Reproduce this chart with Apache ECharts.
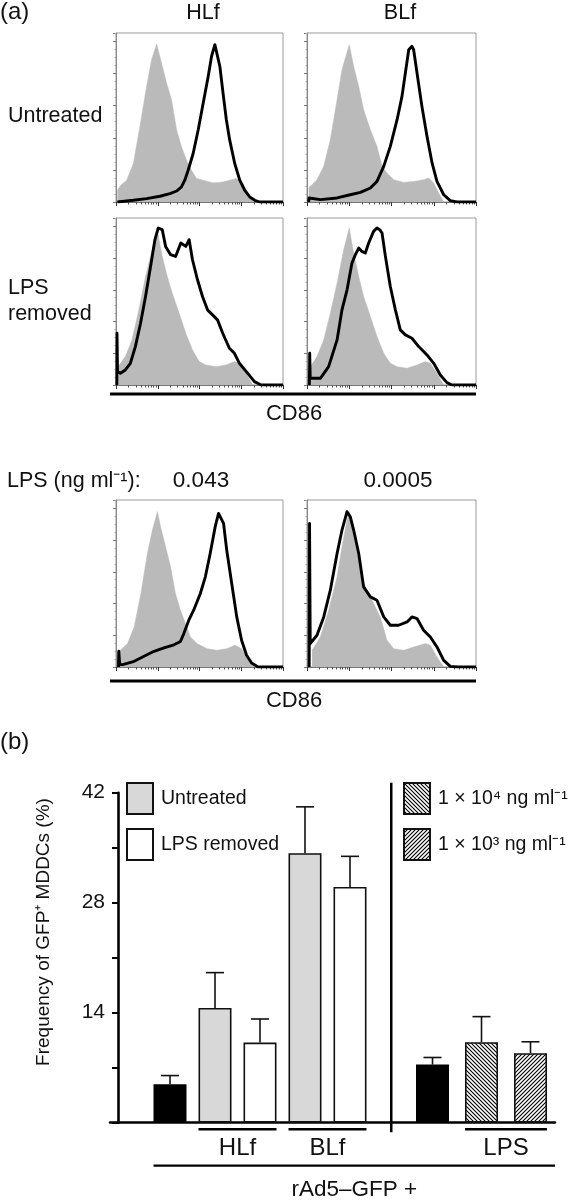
<!DOCTYPE html>
<html><head><meta charset="utf-8">
<script src="https://cdn.jsdelivr.net/npm/echarts@6/dist/echarts.min.js"></script>
<style>html,body{margin:0;padding:0;background:#fff}#c{width:570px;height:1200px}</style>
</head><body><div id="c"></div>
<script>
// ================= DATA =================
// Histograms: [CD86 position (% of 4-decade log axis), % of max count]
const hlfUntreatedCtrl = [[0.8,6.9],[3,10],[6.4,12.9],[10.4,22.8],[14.3,44.6],[18.3,68.3],[21.3,84.2],[24.3,93.5],[26.3,86.1],[28.3,78.2],[30.3,70.3],[33.3,60.4],[36.3,42.6],[39.2,32.7],[42.2,24.8],[45.2,18.8],[48.2,13.9],[52.2,12.9],[58.2,11.3],[64.1,11.9],[68.1,12.9],[72.1,13.9],[76.1,10.9],[79.1,5.0],[82.1,0]];
const hlfUntreatedCD86 = [[0.8,0],[10.4,1.0],[18.3,2.0],[26.3,3.4],[32.3,5.0],[36.3,6.5],[39.2,8.9],[41.2,12.9],[43.2,18.8],[46.2,28.7],[49.2,42.6],[52.2,58.4],[55.2,74.3],[57.2,86.1],[59.2,93.1],[60.2,92.1],[62.2,80.2],[64.1,64.4],[66.1,48.5],[68.1,36.6],[71.1,22.8],[74.1,12.9],[77.1,6.9],[80.1,3.0],[83.1,1.0],[86.1,0],[100,0]];
const blfUntreatedCtrl = [[1.0,8.3],[5.9,13.2],[9.9,21.1],[13.8,36.9],[17.8,60.6],[20.7,78.3],[25.0,93.1],[27.6,80.3],[30.6,68.4],[33.5,54.6],[37.5,42.8],[41.4,32.9],[44.4,21.1],[47.3,17.2],[51.3,13.2],[57.2,11.6],[63.1,12.2],[69.0,13.2],[72.0,14.2],[75.0,11.2],[77.9,5.3],[80.9,0]];
const blfUntreatedCD86 = [[1.0,0],[1.2,2.4],[2,1.4],[7.9,1.4],[17.8,2.4],[25.6,4.3],[31.6,5.7],[37.5,8.3],[41.4,12.2],[45.4,21.1],[49.3,32.9],[53.3,48.7],[56.2,62.5],[58.2,76.3],[60.2,90.1],[62.1,92.1],[63.1,90.1],[65.1,76.3],[68.0,56.6],[71.0,38.9],[74.0,23.1],[76.9,12.2],[80.9,4.3],[84.8,0.8],[88.8,0],[100,0]];
const hlfRemovedCtrl = [[1.2,11],[5.6,17],[9.6,27],[13.7,45],[17.7,65],[21.7,81],[24.7,92.6],[27.7,77],[30.7,65],[33.7,55],[37.8,43],[41.8,31],[45.8,21],[49.8,14],[53.8,12],[59.8,11],[65.9,12],[70.9,14],[73.9,13],[77.9,7],[81.9,0]];
const hlfRemovedCD86 = [[0.5,0],[0.6,31],[0.9,8],[2.6,7],[5.6,9],[8.6,13],[11.6,23],[14.7,37],[17.7,53],[20.7,71],[23.3,87],[25.3,94],[27.7,93],[29.7,83],[32.7,78],[35.7,77],[38.8,85],[41.8,83],[43.8,87],[45.8,75],[48.8,63],[51.8,53],[54.8,45],[57.8,42],[60.8,39],[63.9,31],[67.9,22],[70.9,19],[73.9,13],[78.9,7],[82.9,2],[86.9,0],[100,0]];
const blfRemovedCtrl = [[2.0,11],[5.9,17],[9.9,27],[13.8,43],[17.8,61],[21.7,81],[25.0,94],[27.6,79],[30.6,65],[33.5,53],[37.5,41],[41.4,29],[45.4,19],[49.3,13],[53.3,11],[59.2,10],[65.1,12],[70.0,14],[73.0,13],[76.9,7],[80.9,0]];
const blfRemovedCD86 = [[1.4,0],[1.6,19],[1.9,4],[3.0,3],[7.9,4],[12.8,11],[17.8,27],[20.7,45],[23.7,57],[26.6,73],[28.6,78],[30.6,82],[32.5,80],[34.5,79],[36.5,85],[39.4,92],[41.4,94],[43,93],[44.4,91],[46.4,77],[49.3,59],[52.3,45],[55.2,33],[58.2,30],[62.1,28],[66.1,23],[71.0,18],[75.0,13],[78.9,6],[82.8,1.4],[85.8,0],[100,0]];
const lps043Ctrl = [[0.5,9],[2.0,9.4],[6.9,14],[10.9,24],[14.9,44],[18.8,68],[21.8,82],[24.8,93],[26.7,84],[29.7,72],[32.7,60],[35.6,44],[38.6,34],[41.6,26],[44.6,18],[48.5,14],[54.5,11],[60.4,10],[66.3,11],[71.3,13],[75.2,11],[78.2,6],[82.2,0]];
const lps043CD86 = [[1.5,0],[1.7,9.4],[2.2,1.4],[4.0,1.4],[10.9,3.4],[16.8,6.4],[22.8,9.4],[28.7,11.4],[34.7,13.3],[38.6,15.3],[40.6,20],[43.6,28],[46.5,34],[50.5,44],[53.5,54],[56.4,68],[59.4,84],[61.4,92],[62.4,93],[64.4,86],[66.3,70],[69.3,50],[72.3,30],[75.2,16],[78.2,7],[81.2,2.4],[85.1,0],[100,0]];
const lps0005Ctrl = [[3.0,10],[7.9,18],[12.8,34],[17.8,54],[20.7,72],[23.7,88],[25.0,93],[27.6,78],[30.6,64],[33.5,50],[37.5,42],[40.4,36],[43.4,30],[47.3,16],[51.3,11],[57.2,10],[63.1,12],[70.0,14],[73.0,13],[76.9,6],[80.9,0]];
const lps0005CD86 = [[1.3,0],[1.5,86],[1.9,14],[3.0,14],[5.9,19],[9.9,30],[13.8,46],[17.8,68],[20.7,82],[23.7,93],[25.6,90],[27.6,82],[30.6,68],[33.5,48],[37.5,42],[41.4,40],[45.4,30],[49.3,25],[54.2,25],[59.2,27],[62.1,30],[65.1,29],[69.0,22],[73.0,18],[76.9,12],[80.9,4],[84.8,0.4],[88.8,0],[100,0]];

const histColumnLabels = ['HLf', 'BLf'];
const histRowLabels = ['Untreated', 'LPS', 'removed'];
const lpsDoseLabels = ['0.043', '0.0005'];

// Bar chart (b)
const leftCategories = ['rAd5–GFP', 'HLf untreated', 'HLf LPS removed', 'BLf untreated', 'BLf LPS removed'];
const rightCategories = ['rAd5–GFP', 'LPS 1e4', 'LPS 1e3'];
const controlMean = [4.9, 7.4];
const controlUpper = [6.0, 8.3];
const untreatedMean = [14.6, 34.3];     // HLf, BLf
const untreatedUpper = [19.1, 40.2];
const removedMean = [10.2, 30.0];       // HLf, BLf
const removedUpper = [13.2, 33.9];
const lpsMean = [10.25, 8.85];          // 1e4, 1e3 ng/ml
const lpsUpper = [13.5, 10.3];
const yTickLabels = [14, 28, 42];
const legendNames = ['Untreated', 'LPS removed', '1 × 10⁴ ng ml⁻¹', '1 × 10³ ng ml⁻¹'];
const groupLabels = ['HLf', 'BLf', 'LPS'];

// ================= CHART =================
const FONT = "'Liberation Sans', Arial, Helvetica, sans-serif";
const chart = echarts.init(document.getElementById('c'), null, {renderer: 'canvas'});

function hatch(dir) {
  const c = document.createElement('canvas'); c.width = 4; c.height = 4;
  const g = c.getContext('2d');
  g.fillStyle = '#fff'; g.fillRect(0, 0, 4, 4);
  g.strokeStyle = '#000'; g.lineWidth = 1.1;
  g.beginPath();
  if (dir > 0) { g.moveTo(-1, 5); g.lineTo(5, -1); g.moveTo(-1, 1); g.lineTo(1, -1); g.moveTo(3, 5); g.lineTo(5, 3); }
  else { g.moveTo(-1, -1); g.lineTo(5, 5); g.moveTo(-1, 3); g.lineTo(1, 5); g.moveTo(3, -1); g.lineTo(5, 1); }
  g.stroke();
  return c;
}
const hatchBack = {image: hatch(-1), repeat: 'repeat'};
const hatchFwd = {image: hatch(1), repeat: 'repeat'};

const majorTicks = [0, 25, 50, 75, 100];
const minorTicks = [];
for (let d = 0; d < 4; d++) for (let k = 2; k <= 9; k++) minorTicks.push(25 * (d + Math.log10(k)));

const histLayout = [
  {left: 116, top: 33, width: 167, height: 169},
  {left: 307, top: 33, width: 169, height: 169},
  {left: 116, top: 218, width: 167, height: 167},
  {left: 307, top: 218, width: 169, height: 167},
  {left: 116, top: 500, width: 167, height: 167},
  {left: 307, top: 500, width: 169, height: 167}
];
const histData = [
  [hlfUntreatedCtrl, hlfUntreatedCD86], [blfUntreatedCtrl, blfUntreatedCD86],
  [hlfRemovedCtrl, hlfRemovedCD86], [blfRemovedCtrl, blfRemovedCD86],
  [lps043Ctrl, lps043CD86], [lps0005Ctrl, lps0005CD86]
];

const grid = [], xAxis = [], yAxis = [], series = [];
histLayout.forEach((L, i) => {
  grid.push(Object.assign({show: true, borderColor: '#9a9a9a', borderWidth: 1, containLabel: false, outerBoundsMode: 'none'}, L));
  xAxis.push({gridIndex: i, type: 'value', min: 0, max: 100, position: 'bottom',
    axisLine: {show: true, onZero: false, lineStyle: {color: '#777', width: 1.2}},
    axisTick: {show: true, customValues: majorTicks, length: 4, lineStyle: {color: '#333', width: 1}},
    axisLabel: {show: false}, splitLine: {show: false}});
  xAxis.push({gridIndex: i, type: 'value', min: 0, max: 100, position: 'bottom',
    axisLine: {show: false},
    axisTick: {show: true, customValues: minorTicks, length: 2.5, lineStyle: {color: '#555', width: 1}},
    axisLabel: {show: false}, splitLine: {show: false}});
  yAxis.push({gridIndex: i, type: 'value', min: 0, max: 100, interval: 19,
    axisLine: {show: true, onZero: false, lineStyle: {color: '#888', width: 1}},
    axisTick: {show: true, length: 3, lineStyle: {color: '#777'}},
    minorTick: {show: true, splitNumber: 4, length: 1.5, lineStyle: {color: '#aaa'}},
    axisLabel: {show: false}, splitLine: {show: false}, minorSplitLine: {show: false}});
  series.push({type: 'line', xAxisIndex: 2 * i, yAxisIndex: i, data: histData[i][0], symbol: 'none', silent: true,
    lineStyle: {width: 0.5, color: '#bababa'}, areaStyle: {color: '#bababa', opacity: 1}, z: 2});
  series.push({type: 'line', xAxisIndex: 2 * i, yAxisIndex: i, data: histData[i][1], symbol: 'none', silent: true,
    lineStyle: {width: 2.9, color: '#000', join: 'round'}, z: 3});
});

// bar chart grids
const BAR_TOP = 792.7, BAR_H = 330;
grid.push({left: 110, width: 445, top: BAR_TOP, height: BAR_H, containLabel: false, outerBoundsMode: 'none'}); // 6 axes
grid.push({left: 147.5, width: 225, top: BAR_TOP, height: BAR_H, containLabel: false, outerBoundsMode: 'none'}); // 7 left bars
grid.push({left: 408, width: 147, top: BAR_TOP, height: BAR_H, containLabel: false, outerBoundsMode: 'none'}); // 8 right bars

xAxis.push({gridIndex: 6, type: 'value', min: 0, max: 1, axisLine: {show: true, onZero: false, lineStyle: {color: '#000', width: 2.6}},
  axisTick: {show: false}, axisLabel: {show: false}, splitLine: {show: false}}); // 12
xAxis.push({gridIndex: 7, type: 'category', data: leftCategories, show: false}); // 13
xAxis.push({gridIndex: 8, type: 'category', data: rightCategories, show: false}); // 14
yAxis.push({gridIndex: 6, type: 'value', min: 0, max: 42, interval: 7, offset: -8,
  axisLine: {show: true, onZero: false, lineStyle: {color: '#000', width: 2.6}},
  axisTick: {show: true, length: 6, lineStyle: {color: '#000', width: 2}},
  axisLabel: {show: true, margin: 13, fontSize: 21, fontFamily: FONT, color: '#111',
    formatter: v => yTickLabels.includes(v) ? String(v) : ''},
  splitLine: {show: false}}); // 6
yAxis.push({gridIndex: 7, type: 'value', min: 0, max: 42, show: false}); // 7
yAxis.push({gridIndex: 8, type: 'value', min: 0, max: 42, show: false}); // 8

const barBase = {type: 'bar', barWidth: 33, barGap: '-100%', silent: true, z: 3};
const blackStyle = {color: '#000', borderColor: '#000', borderWidth: 1.5};
series.push(Object.assign({}, barBase, {name: 'rAd5–GFP', xAxisIndex: 13, yAxisIndex: 7,
  data: [controlMean[0], '-', '-', '-', '-'], itemStyle: blackStyle}));
series.push(Object.assign({}, barBase, {name: legendNames[0], xAxisIndex: 13, yAxisIndex: 7,
  data: ['-', untreatedMean[0], '-', untreatedMean[1], '-'], itemStyle: {color: '#d8d8d8', borderColor: '#111', borderWidth: 1.6}}));
series.push(Object.assign({}, barBase, {name: legendNames[1], xAxisIndex: 13, yAxisIndex: 7,
  data: ['-', '-', removedMean[0], '-', removedMean[1]], itemStyle: {color: '#fff', borderColor: '#111', borderWidth: 1.6}}));
series.push(Object.assign({}, barBase, {name: 'rAd5–GFP', xAxisIndex: 14, yAxisIndex: 8,
  data: [controlMean[1], '-', '-'], itemStyle: blackStyle}));
series.push(Object.assign({}, barBase, {name: legendNames[2], xAxisIndex: 14, yAxisIndex: 8,
  data: ['-', lpsMean[0], '-'], itemStyle: {color: hatchBack, borderColor: '#111', borderWidth: 1.6}}));
series.push(Object.assign({}, barBase, {name: legendNames[3], xAxisIndex: 14, yAxisIndex: 8,
  data: ['-', '-', lpsMean[1]], itemStyle: {color: hatchFwd, borderColor: '#111', borderWidth: 1.6}}));

function errRender(params, api) {
  const x = api.value(0), m = api.value(1), u = api.value(2);
  const p0 = api.coord([x, m]), p1 = api.coord([x, u]);
  const cap = 9;
  const st = {stroke: '#111', lineWidth: 1.6};
  return {type: 'group', children: [
    {type: 'line', shape: {x1: p0[0], y1: p0[1], x2: p1[0], y2: p1[1]}, style: st},
    {type: 'line', shape: {x1: p1[0] - cap, y1: p1[1], x2: p1[0] + cap, y2: p1[1]}, style: st}
  ]};
}
series.push({type: 'custom', xAxisIndex: 13, yAxisIndex: 7, renderItem: errRender, silent: true, z: 4,
  dimensions: ['x', 'mean', 'upper'], encode: {x: 0, y: [1, 2]},
  data: [[0, controlMean[0], controlUpper[0]], [1, untreatedMean[0], untreatedUpper[0]], [2, removedMean[0], removedUpper[0]],
         [3, untreatedMean[1], untreatedUpper[1]], [4, removedMean[1], removedUpper[1]]]});
series.push({type: 'custom', xAxisIndex: 14, yAxisIndex: 8, renderItem: errRender, silent: true, z: 4,
  dimensions: ['x', 'mean', 'upper'], encode: {x: 0, y: [1, 2]},
  data: [[0, controlMean[1], controlUpper[1]], [1, lpsMean[0], lpsUpper[0]], [2, lpsMean[1], lpsUpper[1]]]});

const legendText = {fontSize: 19.5, fontFamily: FONT, color: '#111', padding: [0, 0, 0, 3]};
const legend = [
  {data: legendNames.slice(0, 2), left: 126, top: 782, orient: 'vertical', itemWidth: 26, itemHeight: 31, itemGap: 13,
   icon: 'rect', selectedMode: false, padding: 0, textStyle: legendText},
  {data: legendNames.slice(2, 4), left: 403, top: 782, orient: 'vertical', itemWidth: 26, itemHeight: 31, itemGap: 13,
   icon: 'rect', selectedMode: false, padding: 0, textStyle: legendText}
];

function T(text, x, y, size, align, extra) {
  return Object.assign({type: 'text', x: x, y: y, silent: true,
    style: {text: text, fontSize: size, fontFamily: FONT, fill: '#111', align: align || 'center', verticalAlign: 'middle'}}, extra || {});
}
function Ln(x1, y1, x2, y2, w) {
  return {type: 'line', silent: true, shape: {x1, y1, x2, y2}, style: {stroke: '#000', lineWidth: w || 2.6}};
}

const staticGraphics = [
  T('(a)', 0, 12, 24, 'left'),
  T(histColumnLabels[0], 203, 13, 21.5),
  T(histColumnLabels[1], 400, 13, 21.5),
  T(histRowLabels[0], 8, 116, 21.5, 'left'),
  T(histRowLabels[1], 8, 288.5, 21.5, 'left'),
  T(histRowLabels[2], 8, 314, 21.5, 'left'),
  Ln(110, 394, 476, 394, 2.8),
  T('CD86', 294, 414, 22),
  T('LPS (ng ml⁻¹):', 7, 481, 21.5, 'left'),
  T(lpsDoseLabels[0], 201, 481, 22.5),
  T(lpsDoseLabels[1], 398, 481, 22.5),
  Ln(110, 681, 476, 681, 2.8),
  T('CD86', 294, 701, 22),
  T('(b)', 0, 742, 24, 'left'),
  T('Frequency of GFP⁺ MDDCs (%)', 44, 932, 19, 'center', {rotation: Math.PI / 2})
];

chart.setOption({animation: false, backgroundColor: '#fff', grid, xAxis, yAxis, series, legend,
  graphic: {elements: staticGraphics}});

// group annotations derived from the bar positions
const half = 16.5;
const pL = i => chart.convertToPixel({xAxisIndex: 13, yAxisIndex: 7}, [i, 0]);
const pR = i => chart.convertToPixel({xAxisIndex: 14, yAxisIndex: 8}, [i, 0]);
const zeroY = pL(0)[1];
const topY = chart.convertToPixel({xAxisIndex: 13, yAxisIndex: 7}, [0, 42])[1];
const groups = [[pL(1)[0] - half, pL(2)[0] + half], [pL(3)[0] - half, pL(4)[0] + half], [pR(1)[0] - half, pR(2)[0] + half]];
const dyn = [];
groups.forEach((g, i) => {
  dyn.push(Ln(g[0], zeroY + 6.6, g[1], zeroY + 6.6, 2.6));
  dyn.push(T(groupLabels[i], (g[0] + g[1]) / 2, zeroY + 25.5, 24));
});
const sepX = (pL(4)[0] + pR(0)[0]) / 2;
dyn.push(Ln(sepX, topY - 10, sepX, zeroY + 9.5, 2.5));
const longL = pL(0)[0] - half, longR = 555;
dyn.push(Ln(longL, zeroY + 43, longR, zeroY + 43, 2.2));
dyn.push(T('rAd5–GFP +', (longL + longR) / 2, zeroY + 67, 22.5));

chart.setOption({graphic: {elements: staticGraphics.concat(dyn)}}, {replaceMerge: ['graphic']});
</script></body></html>
